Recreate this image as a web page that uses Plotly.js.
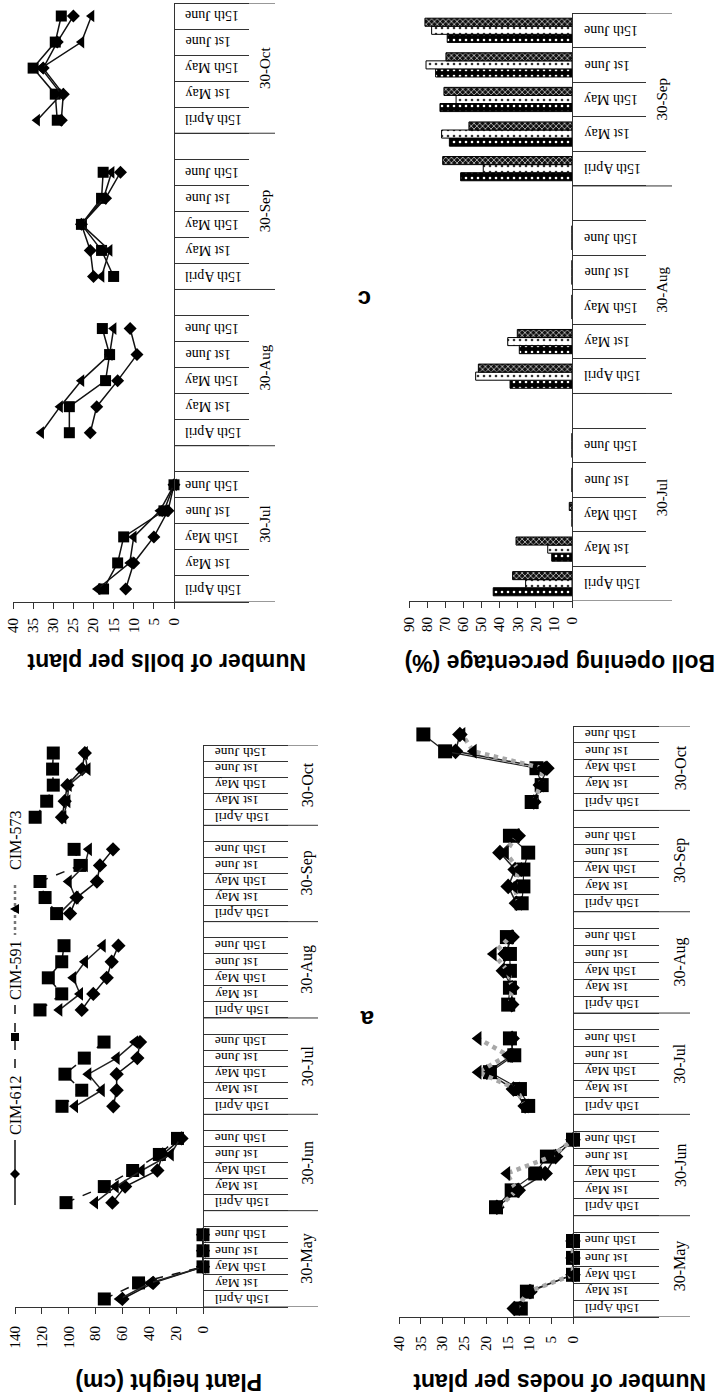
<!DOCTYPE html>
<html><head><meta charset="utf-8">
<script src="https://cdn.plot.ly/plotly-3.0.1.min.js"></script>
<style>html,body{margin:0;padding:0;background:#fff}</style>
</head><body>
<div id="chart" style="width:719px;height:1397px"></div>
<script>
// ---------------- DATA ----------------
const dates = ["15th April", "1st May", "15th May", "1st June", "15th June"];
const seriesNames = ["CIM-612", "CIM-591", "CIM-573"];

// Number of bolls per plant
const bollGroups = ["30-Jul", "30-Aug", "30-Sep", "30-Oct"];
const bolls612 = [[12, 10, 5, 1.5, 0], [20.8, 19.2, 14, 9.2, 10.9], [20, 20.8, 23, 17, 13.3], [28, 27.5, 32.5, 29, 25]];
const bolls591 = [[17.5, 14, 12.5, 2.5, 0], [26, 26, 17, 16, 17.8], [15, 18, 23, 18, 17.6], [29, 29.5, 35, 29.5, 28]];
const bolls573 = [[19, 11, 10, 3.5, 0], [33, 28.3, 23, 16, 15], [18, 16, 23, 17.5, 15.5], [34, 28, 33, 23, 20.5]];

// Boll opening percentage (%)
const openGroups = ["30-Jul", "30-Aug", "30-Sep"];
const open612 = [[43.5, 11.2, 0, 0, 0], [34.2, 29.1, 0, 0, 0], [61.5, 67.7, 72.9, 75.3, 68.9]];
const open591 = [[25.6, 13.4, 0, 0, 0], [53.2, 35.5, 0, 0, 0], [49, 72, 64, 80.6, 77.5]];
const open573 = [[32.8, 30.9, 1.5, 0, 0], [51.7, 30.2, 0, 0, 0], [71.4, 56.9, 70.7, 69.6, 81.2]];

// Plant height (cm)
const heightGroups = ["30-May", "30-Jun", "30-Jul", "30-Aug", "30-Sep", "30-Oct"];
const height612 = [[60, 37, 0, 0, 0], [67.5, 58, 34, 30, 16], [66.8, 64.3, 64.3, 48.9, 46.9], [90.3, 81.7, 71.7, 68, 63], [99, 94, 79, 76.7, 67], [105, 103, 101, 90, 88]];
const height591 = [[73.5, 48, 0, 0, 0], [102, 73.5, 52.4, 32.5, 19], [105, 90.3, 102.8, 88.4, 73.7], [121.4, 105.2, 115.2, 105.2, 103.5], [109, 117.6, 121.4, 91.6, 96], [125, 116.4, 111.5, 112, 111.5]];
const height573 = [[62, 39.5, 0, 0, 0], [80.4, 65, 45.7, 24, 17], [95.3, 75.4, 85.4, 64.3, 50.6], [107, 91.6, 96.6, 87.9, 74.7], [107, 95, 100, 88, 85], [104, 101, 100, 86, 88]];

// Number of nodes per plant
const nodeGroups = ["30-May", "30-Jun", "30-Jul", "30-Aug", "30-Sep", "30-Oct"];
const nodes612 = [[13.5, 9.9, 0, 0, 0], [17.5, 12.6, 6.4, 4, 0], [11, 13.7, 19.8, 14, 14], [14.1, 14, 16, 15.6, 14], [13, 14.9, 13.3, 16.8, 12.6], [9, 7.5, 6, 27, 26]];
const nodes591 = [[12, 10.6, 0, 0, 0], [17.7, 14.1, 8.7, 6, 0], [10.3, 12.2, 19.1, 13.5, 14.5], [14.9, 14.5, 14.5, 14.5, 15.2], [11.8, 11.4, 11.4, 10.3, 14.5], [9.5, 7.2, 8.4, 29.4, 34.4]];
const nodes573 = [[13, 10.3, 0, 0, 0], [17, 13, 15.2, 5, 0], [11, 13, 21.8, 15, 21.8], [14.5, 14, 15, 18.3, 14.5], [12.5, 13.5, 12.5, 15.5, 13], [9, 7.5, 7, 22.9, 25.5]];

const titles = ["Number of bolls per plant", "Boll opening percentage (%)", "Plant height (cm)", "Number of nodes per plant"];
const panelLetters = ["c", "a"];

// ---------------- LAYOUT HELPERS ----------------
const W = 719, H = 1397;
const px = v => v / W;
const py = v => 1 - v / H;
const SERIF = "Liberation Serif, Times New Roman, serif";
const SANS = "Liberation Sans, Arial, sans-serif";

function catIds(groups) {
  const ids = [];
  groups.forEach((g, gi) => {
    dates.forEach(d => ids.push(g + "|" + d));
    if (gi < groups.length - 1) ids.push(g + "|");
  });
  return ids;
}
function flatVals(groups, vals) {
  const out = [];
  groups.forEach((g, gi) => {
    vals[gi].forEach(v => out.push(v));
    if (gi < groups.length - 1) out.push(null);
  });
  return out;
}

const panels = [
  {ax: "", groups: bollGroups, data: [bolls612, bolls591, bolls573], kind: "line",
   left: 13, axisX: 174, vmax: 40, dtick: 5, top: 3, bottom: 602, shortLen: 74, longEnd: 275,
   labelX: 183, groupX: 265, catFont: 14, grpFont: 15, standoff: 3, msize: [10, 11, 11],
   lines: [{color: "#111", width: 1.5}, {color: "#111", width: 1.5}, {color: "#111", width: 1.5}]},
  {ax: "2", groups: openGroups, data: [open612, open591, open573], kind: "bar",
   left: 409, axisX: 572, vmax: 90, dtick: 10, top: 13, bottom: 601, shortLen: 73, longEnd: 672,
   labelX: 582, groupX: 662, catFont: 14, grpFont: 15, standoff: 3},
  {ax: "3", groups: heightGroups, data: [height612, height591, height573], kind: "line",
   left: 15, axisX: 203, vmax: 140, dtick: 20, top: 745, bottom: 1307, shortLen: 84, longEnd: 318,
   labelX: 213, groupX: 307, catFont: 13.5, grpFont: 16, standoff: 6, msize: [11, 13, 12],
   lines: [{color: "#111", width: 1.5}, {color: "#111", width: 1.5, dash: "dash"}, {color: "#222", width: 1.5}]},
  {ax: "4", groups: nodeGroups, data: [nodes612, nodes591, nodes573], kind: "line",
   left: 399, axisX: 573, vmax: 40, dtick: 5, top: 726, bottom: 1317, shortLen: 85, longEnd: 690,
   labelX: 583, groupX: 680, catFont: 13.5, grpFont: 16, standoff: 6, msize: [12, 14, 13],
   lines: [{color: "#222", width: 1.5}, {color: "#222", width: 1.2}, {color: "#a8a8a8", width: 4.5, dash: "dot"}]}
];

const symbols = ["diamond", "square", "triangle-left"];
const barPatterns = [
  {shape: ".", bgcolor: "#000", fgcolor: "#fff", size: 6, solidity: 0.15},
  {shape: ".", bgcolor: "#fff", fgcolor: "#333", size: 6, solidity: 0.15},
  {shape: "x", bgcolor: "#111", fgcolor: "#d0d0d0", size: 4, solidity: 0.35}
];

const traces = [];
const layout = {
  width: W, height: H, margin: {l: 0, r: 0, t: 0, b: 0},
  paper_bgcolor: "#fff", plot_bgcolor: "rgba(0,0,0,0)", showlegend: false,
  barmode: "group", bargap: 0.3, bargroupgap: 0,
  annotations: [], shapes: [], font: {family: SERIF, color: "#000"}
};

panels.forEach(p => {
  const ids = catIds(p.groups);
  const n = ids.length;
  const xa = "x" + p.ax, ya = "y" + p.ax;
  const xKey = "xaxis" + p.ax, yKey = "yaxis" + p.ax;
  layout[xKey] = {
    domain: [px(p.left), px(p.axisX)], range: [p.vmax, 0], anchor: ya,
    showline: true, linecolor: "#333", linewidth: 1, ticks: "outside", ticklen: 6,
    tickcolor: "#333", dtick: p.dtick, tick0: 0, tickangle: -90, showgrid: false, zeroline: false,
    ticklabelstandoff: p.standoff,
    tickfont: {family: SERIF, size: 15, color: "#000"}, fixedrange: true
  };
  layout[yKey] = {
    domain: [py(p.bottom), py(p.top)], type: "category", categoryorder: "array", categoryarray: ids,
    range: [-0.5, n - 0.5], anchor: xa, side: "right", showline: true, linecolor: "#333", linewidth: 1,
    ticks: "outside", tickson: "boundaries", ticklen: p.shortLen, tickcolor: "#333", tickwidth: 1,
    showticklabels: false, showgrid: false, zeroline: false, fixedrange: true
  };
  p.data.forEach((vals, si) => {
    const xv = flatVals(p.groups, vals);
    if (p.kind === "line") {
      traces.push({
        type: "scatter", mode: "lines+markers", name: seriesNames[si], x: xv, y: ids,
        xaxis: xa, yaxis: ya, connectgaps: false, cliponaxis: false,
        line: Object.assign({}, p.lines[si]),
        marker: {symbol: symbols[si], size: p.msize[si], color: "#000", line: {width: 0}}
      });
    } else {
      traces.push({
        type: "bar", orientation: "h", name: seriesNames[si], x: xv, y: ids,
        xaxis: xa, yaxis: ya,
        marker: {color: barPatterns[si].bgcolor, pattern: barPatterns[si], line: {color: "#000", width: 1}}
      });
    }
  });
  // category labels (upside down) and group labels
  let idx = 0;
  const bounds = [-0.5];
  p.groups.forEach((g, gi) => {
    const start = idx;
    dates.forEach(d => {
      layout.annotations.push({
        xref: "paper", yref: ya, x: px(p.labelX), y: g + "|" + d, text: d, textangle: 180,
        xanchor: "left", yanchor: "middle", showarrow: false,
        font: {family: SERIF, size: p.catFont, color: "#000"}
      });
      idx++;
    });
    if (gi < p.groups.length - 1) idx++;
    const end = idx - 1;
    bounds.push(end + 0.5);
    layout.annotations.push({
      xref: "paper", yref: ya, x: px(p.groupX), y: (start + end) / 2, text: g, textangle: -90,
      xanchor: "center", yanchor: "middle", showarrow: false,
      font: {family: SERIF, size: p.grpFont, color: "#000"}
    });
  });
  bounds.forEach(b => {
    layout.shapes.push({type: "line", xref: "paper", yref: ya, x0: px(p.axisX), x1: px(p.longEnd),
      y0: b, y1: b, line: {color: "#333", width: 1}});
  });
});

// Axis titles (upside down)
const titlePos = [[167, 662], [560, 663], [169, 1382], [560, 1382]];
titles.forEach((t, i) => {
  layout.annotations.push({xref: "paper", yref: "paper", x: px(titlePos[i][0]), y: py(titlePos[i][1]),
    text: "<b>" + t + "</b>", textangle: 180, showarrow: false, xanchor: "center", yanchor: "middle",
    font: {family: SANS, size: 23, color: "#000"}});
});
// panel letters
[[364, 300], [367, 1020]].forEach((pos, i) => {
  layout.annotations.push({xref: "paper", yref: "paper", x: px(pos[0]), y: py(pos[1]),
    text: "<b>" + panelLetters[i] + "</b>", textangle: 180, showarrow: false,
    xanchor: "center", yanchor: "middle", font: {family: SANS, size: 24, color: "#000"}});
});

// Legend (rotated, in plant-height panel)
const legX = 15;
const legText = [[1105, "CIM-612"], [970, "CIM-591"], [840, "CIM-573"]];
legText.forEach(([yy, t]) => {
  layout.annotations.push({xref: "paper", yref: "paper", x: px(legX), y: py(yy), text: t, textangle: -90,
    showarrow: false, xanchor: "center", yanchor: "middle", font: {family: SERIF, size: 16, color: "#000"}});
});
const legLines = [[1140, 1205, "solid", "#111", 1.5], [1005, 1070, "dash", "#111", 1.5], [885, 935, "dot", "#777", 2.5]];
legLines.forEach(([a, b, dash, c, w]) => {
  layout.shapes.push({type: "line", xref: "paper", yref: "paper", x0: px(legX), x1: px(legX), y0: py(a), y1: py(b),
    line: {color: c, width: w, dash: dash}});
});
function pathPts(pts) {
  return "M" + pts.map(q => px(q[0]) + "," + py(q[1])).join(" L") + " Z";
}
layout.shapes.push({type: "path", xref: "paper", yref: "paper", path: pathPts([[legX, 1169], [legX + 5, 1174], [legX, 1179], [legX - 5, 1174]]), fillcolor: "#000", line: {width: 0}});
layout.shapes.push({type: "path", xref: "paper", yref: "paper", path: pathPts([[legX - 4, 1033], [legX + 4, 1033], [legX + 4, 1041], [legX - 4, 1041]]), fillcolor: "#000", line: {width: 0}});
layout.shapes.push({type: "path", xref: "paper", yref: "paper", path: pathPts([[legX - 5, 909], [legX + 4, 904], [legX + 4, 914]]), fillcolor: "#000", line: {width: 0}});

Plotly.newPlot("chart", traces, layout, {staticPlot: true, displayModeBar: false});
</script>
</body></html>
